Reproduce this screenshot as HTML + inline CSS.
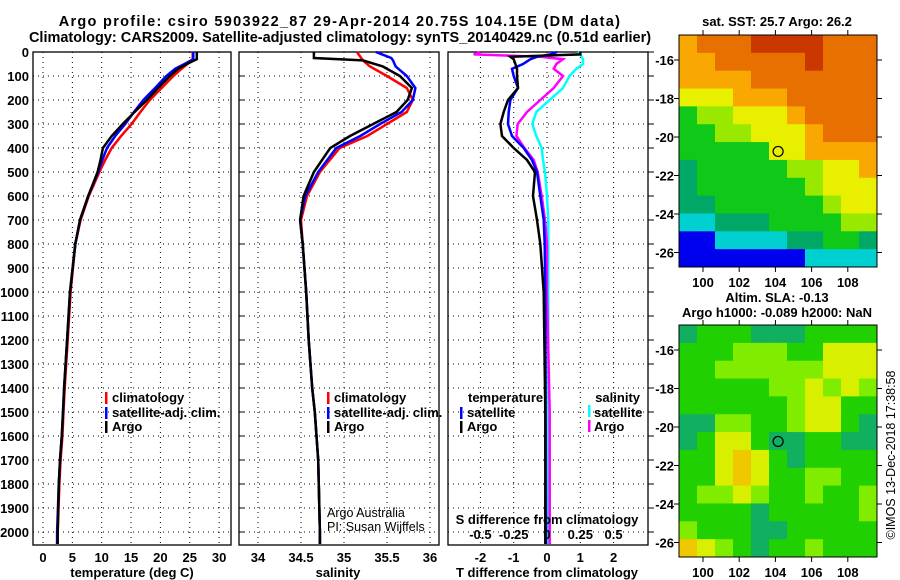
<!DOCTYPE html>
<html><head><meta charset="utf-8"><style>
html,body{margin:0;padding:0;background:#fff;}
svg{display:block;font-family:"Liberation Sans",sans-serif;}
.b{font-weight:bold;font-size:13px;}
.t{font-weight:bold;font-size:14.5px;}
</style></head><body>
<svg id="chart" width="900" height="580" viewBox="0 0 900 580" xmlns="http://www.w3.org/2000/svg">
<text class="t" x="340" y="26" text-anchor="middle" letter-spacing="1.3">Argo profile: csiro 5903922_87 29-Apr-2014 20.75S 104.15E (DM data)</text>
<text class="t" x="340" y="42" text-anchor="middle">Climatology: CARS2009. Satellite-adjusted climatology: synTS_20140429.nc (0.51d earlier)</text>
<g id="p1"></g>
<g id="p2"></g>
<g id="p3"></g>
<g id="m1"></g>
<g id="m2"></g>
<text x="0" y="0" font-size="12.5" transform="translate(895,455) rotate(-90)" text-anchor="middle">©IMOS 13-Dec-2018 17:38:58</text>
</svg>
<script>
const NS="http://www.w3.org/2000/svg";
const depthT=[0,30,50,70,100,150,200,250,300,350,400,450,500,600,700,800,1000,1200,1400,1500,1600,1700,1800,2000,2050];
const tempArgo=[26.2,26.2,24.5,23,21.6,19.6,17.7,15.6,13.6,11.7,10.2,9.8,9.3,7.7,6.3,5.5,4.6,4.1,3.6,3.4,3.2,2.9,2.7,2.5,2.5];
const tempClim=[25.5,25.5,24.6,23.6,22.2,20.2,18.2,16.6,15.1,13.3,11.7,10.6,9.6,7.8,6.4,5.5,4.7,4.2,3.7,3.5,3.3,3.0,2.8,2.5,2.4];
const tempSat=[25.6,25.6,24.1,22.5,21.0,19.1,17.1,15.5,14.0,12.3,10.9,10.1,9.4,7.7,6.3,5.5,4.6,4.1,3.6,3.4,3.2,2.9,2.7,2.4,2.4];
const depthS=[0,25,35,60,100,150,200,250,300,350,400,500,600,700,800,1000,1200,1400,1500,1700,2000,2050];
const salArgo=[34.65,34.65,35.22,35.45,35.65,35.79,35.74,35.61,35.34,35.07,34.84,34.65,34.53,34.49,34.52,34.56,34.59,34.63,34.66,34.7,34.72,34.72];
const salClim=[35.15,35.2,35.22,35.3,35.5,35.73,35.8,35.73,35.5,35.27,34.95,34.72,34.57,34.5,34.52,34.56,34.59,34.63,34.66,34.7,34.72,34.72];
const salSat=[35.37,35.55,35.57,35.6,35.73,35.83,35.8,35.67,35.42,35.19,34.91,34.7,34.55,34.49,34.52,34.56,34.59,34.63,34.66,34.7,34.72,34.72];
const depthD=[0,10,20,30,50,70,100,150,200,250,300,350,400,450,500,600,700,800,1000,1500,2000,2050];
const dTArgo=[1.0,1.0,-1.1,-1.0,-0.95,-0.9,-0.9,-0.87,-1.17,-1.3,-1.4,-1.35,-1.0,-0.6,-0.36,-0.42,-0.3,-0.2,-0.1,-0.05,-0.05,-0.05];
const dTSat=[0.3,0.1,-0.3,-0.5,-0.72,-1.05,-1.0,-0.87,-1.1,-1.15,-1.17,-1.05,-0.7,-0.45,-0.3,-0.2,-0.1,-0.07,-0.05,-0.04,-0.03,-0.03];
const dSArgo=[-0.5,-0.55,-0.05,0.12,0.07,0.05,0.12,0.05,-0.05,-0.15,-0.22,-0.23,-0.17,-0.1,-0.07,-0.04,-0.015,0,0,0.02,0.02,0.02];
const dSSat=[0.23,0.25,0.26,0.27,0.27,0.22,0.17,0.12,0.02,-0.08,-0.11,-0.08,-0.04,-0.03,-0.015,0,0.01,0.01,0.01,0.01,0.01,0.01];
const depthTicks=[0,100,200,300,400,500,600,700,800,900,1000,1100,1200,1300,1400,1500,1600,1700,1800,1900,2000];
const tTicks=[0,5,10,15,20,25,30];
const sTicks=[34,34.5,35,35.5,36];
const dTicks=[-2,-1,0,1,2];
const dSTickLabels=["-0.5","-0.25","0","0.25","0.5"];
const sstGrid=["oOOORRRROOO","ooOOOOOROOO","ooooOOOOOOO","YYYoooOOOOO","GLLYYYoOOOO","GGLLYYYoOOO","GGGGGYYoooo","gGGGGGLLYYo","gGGGGGGLYYY","ggGGGGGGLYY","CCgggGGGGLL","BBCCCCggGGg","BBBBBBBCCCC"];
const slaGrid=["gGGGgggGGGG","GGGLLLGGYYY","GGLLLLLLYYY","GGGGGLLYLYL","GGGGGGLYYGG","ggLLGGLYYGg","gGYYGggGGgg","GGYoYGgGGGG","GGYoYGGLLGG","GLLYLGGLGGL","GGGGgGGGGGL","LGGGggGGGGG","oYLGgGGLGGG"];
const latTicks=[-16,-18,-20,-22,-24,-26];
const lonTicks=[100,102,104,106,108];
const argoLon=104.15, argoLat=-20.75;

function el(tag,attrs,parent,txt){const e=document.createElementNS(NS,tag);for(const k in attrs)e.setAttribute(k,attrs[k]);if(txt!==undefined)e.textContent=txt;parent.appendChild(e);return e;}
const yD=d=>52+0.24*d;
const TOP=52,BOT=545;
function panel(g,x0,x1,xs,ticks,labels,leftLabels){
  ticks.forEach(t=>{el('line',{x1:xs(t),x2:xs(t),y1:TOP,y2:BOT,stroke:'#000','stroke-dasharray':'1,4','stroke-width':1},g);});
  depthTicks.forEach(d=>{el('line',{x1:x0,x2:x1,y1:yD(d),y2:yD(d),stroke:'#000','stroke-dasharray':'1,4','stroke-width':1},g);});
  el('rect',{x:x0,y:TOP,width:x1-x0,height:BOT-TOP,fill:'none',stroke:'#000','stroke-width':1.3},g);
  if(labels) ticks.forEach((t,i)=>{const e=el('text',{x:xs(t),y:562,'text-anchor':'middle',class:'b'},g,labels[i]);});
  if(leftLabels) depthTicks.forEach(d=>{const e=el('text',{x:29,y:yD(d)+5,'text-anchor':'end',class:'b'},g,String(d));});
}
function line(g,xs,vals,depths,color,name){
  const pts=vals.map((v,i)=>xs(v).toFixed(1)+','+yD(depths[i]).toFixed(1)).join(' ');
  const p=el('polyline',{points:pts,fill:'none',stroke:color,'stroke-width':2.5,'stroke-linejoin':'miter'},g);
  
  
}
function legend(g,x,y,color,text){
  el('rect',{x:x,y:y-10,width:2.5,height:12,fill:color},g);
  const t=el('text',{x:x+7,y:y,class:'b'},g,text);
  
  
}
const p1=document.getElementById('p1');
const xT=v=>43+5.87*v;
panel(p1,33,231,xT,tTicks,tTicks.map(String),true);
line(p1,xT,tempClim,depthT,'#f00','temp-climatology-line');
line(p1,xT,tempSat,depthT,'#00f','temp-satellite-line');
line(p1,xT,tempArgo,depthT,'#000','temp-argo-line');
el('text',{x:132,y:577,class:'b','text-anchor':'middle'},p1,'temperature (deg C)');
legend(p1,105,402,'#f00','climatology');legend(p1,105,417,'#00f','satellite-adj. clim.');legend(p1,105,431,'#000','Argo');
const p2=document.getElementById('p2');
const xS=v=>258+86*(v-34);
panel(p2,239,439,xS,sTicks,["34","34.5","35","35.5","36"],false);
depthTicks.forEach(d=>el('line',{x1:239,x2:244,y1:yD(d),y2:yD(d),stroke:'#000'},p2));
line(p2,xS,salClim,depthS,'#f00','sal-climatology-line');
line(p2,xS,salSat,depthS,'#00f','sal-satellite-line');
line(p2,xS,salArgo,depthS,'#000','sal-argo-line');
el('text',{x:338,y:577,class:'b','text-anchor':'middle'},p2,'salinity');
legend(p2,327,402,'#f00','climatology');legend(p2,327,417,'#00f','satellite-adj. clim.');legend(p2,327,431,'#000','Argo');
el('text',{x:327,y:517,'font-size':12.5},p2,'Argo Australia');
el('text',{x:327,y:531,'font-size':12.5},p2,'PI: Susan Wijffels');
const p3=document.getElementById('p3');
const xD=v=>547+33.3*v;
const xDS=v=>547+133.2*v;
panel(p3,448,648,xD,dTicks,dTicks.map(String),false);
depthTicks.forEach(d=>el('line',{x1:648,x2:654,y1:yD(d),y2:yD(d),stroke:'#000'},p3));
line(p3,xDS,dSSat,depthD,'#0ff','sdiff-satellite-line');
line(p3,xDS,dSArgo,depthD,'#f0f','sdiff-argo-line');
line(p3,xD,dTSat,depthD,'#00f','tdiff-satellite-line');
line(p3,xD,dTArgo,depthD,'#000','tdiff-argo-line');
el('text',{x:547,y:577,class:'b','text-anchor':'middle'},p3,'T difference from climatology');
el('text',{x:547,y:524,class:'b','text-anchor':'middle'},p3,'S difference from climatology');
dTicks.forEach((t,i)=>el('text',{x:xD(t),y:539,class:'b','text-anchor':'middle'},p3,dSTickLabels[i]));
el('text',{x:468,y:402,class:'b'},p3,'temperature');
legend(p3,460,417,'#00f','satellite');legend(p3,460,431,'#000','Argo');
el('text',{x:640,y:402,class:'b','text-anchor':'end'},p3,'salinity');
el('rect',{x:588,y:405,width:2.5,height:12,fill:'#0ff'},p3);el('text',{x:594,y:417,class:'b'},p3,'satellite');
el('rect',{x:588,y:420,width:2.5,height:12,fill:'#f0f'},p3);el('text',{x:594,y:431,class:'b'},p3,'Argo');
const colSST={R:'#c83800',O:'#e87000',o:'#f8a800',Y:'#e8f000',L:'#98e800',G:'#10c818',g:'#00a868',C:'#00d0d0',B:'#0000f0'};
const colSLA={G:'#20d000',g:'#10b060',L:'#80ec00',Y:'#d8f000',o:'#f0c800'};
function map(g,y0,grid,cols,title,titleY){
  const x0=679,x1=877,y1=y0+232;
  const lonX=v=>703+(v-100)*18.1;
  const latY=v=>y0+25+(-16-v)*19.25;
  const rows=grid.length,nc=grid[0].length,cw=(x1-x0)/nc,ch=(y1-y0)/rows;
  grid.forEach((r,i)=>{for(let j=0;j<nc;j++){el('rect',{x:x0+j*cw,y:y0+i*ch,width:cw+0.5,height:ch+0.5,fill:cols[r[j]]},g);}});
  el('rect',{x:x0,y:y0,width:x1-x0,height:y1-y0,fill:'none',stroke:'#000','stroke-width':1},g);
  lonTicks.forEach(v=>{el('line',{x1:lonX(v),x2:lonX(v),y1:y0,y2:y0-5,stroke:'#000'},g);el('line',{x1:lonX(v),x2:lonX(v),y1:y1,y2:y1+5,stroke:'#000'},g);el('text',{x:lonX(v),y:y1+20,class:'b','text-anchor':'middle'},g,String(v));});
  latTicks.forEach(v=>{el('line',{x1:x0,x2:x0-5,y1:latY(v),y2:latY(v),stroke:'#000'},g);el('line',{x1:x1,x2:x1+5,y1:latY(v),y2:latY(v),stroke:'#000'},g);el('text',{x:674,y:latY(v)+5,class:'b','text-anchor':'end'},g,String(v));});
  const m=el('circle',{cx:lonX(argoLon),cy:latY(argoLat),r:5,fill:'none',stroke:'#000','stroke-width':1.2},g);
  
  
  title.forEach((t,i)=>el('text',{x:777,y:titleY+i*15,class:'b','text-anchor':'middle'},g,t));
}
map(document.getElementById('m1'),35,sstGrid,colSST,['sat. SST: 25.7 Argo: 26.2'],26);
map(document.getElementById('m2'),325,slaGrid,colSLA,['Altim. SLA: -0.13','Argo h1000: -0.089 h2000: NaN'],302);
</script>
</body></html>
